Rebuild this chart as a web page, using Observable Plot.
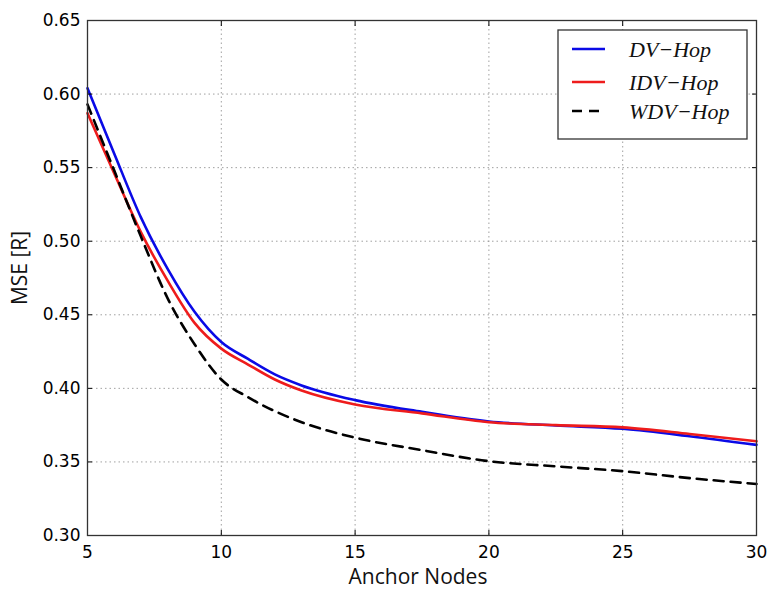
<!DOCTYPE html>
<html>
<head>
<meta charset="utf-8">
<script src="https://cdn.jsdelivr.net/npm/d3@7"></script>
<script src="https://cdn.jsdelivr.net/npm/@observablehq/plot@0.6"></script>
<style>
  html, body { margin: 0; padding: 0; background: #fff; }
  #chart { width: 767px; height: 592px; }
</style>
</head>
<body>
<div id="chart"></div>
<script>
const anchorNodes = [5, 6, 7, 8, 9, 10, 11, 12, 13, 15, 17.5, 20, 22.5, 25, 27.5, 30];
const dvHop  = [0.604, 0.5595, 0.516, 0.481, 0.452, 0.4315, 0.420, 0.4095, 0.402, 0.392, 0.384, 0.3775, 0.3748, 0.3725, 0.3675, 0.3616];
const idvHop = [0.587, 0.546, 0.506, 0.473, 0.4445, 0.427, 0.4162, 0.406, 0.3985, 0.389, 0.383, 0.377, 0.375, 0.3735, 0.369, 0.364];
const wdvHop = [0.593, 0.548, 0.503, 0.461, 0.430, 0.406, 0.394, 0.3845, 0.377, 0.3665, 0.358, 0.3505, 0.347, 0.3437, 0.339, 0.335];
const seriesNames = ["DV\u2212Hop", "IDV\u2212Hop", "WDV\u2212Hop"];
const seriesColors = ["#0a0ae6", "#ee1c1c", "#000000"];
const seriesDash = [null, null, "10,7"];
const xTicks = [5, 10, 15, 20, 25, 30];
const yTicks = [0.30, 0.35, 0.40, 0.45, 0.50, 0.55, 0.60, 0.65];

const allSeries = [dvHop, idvHop, wdvHop];
const rows = [];
allSeries.forEach((vals, si) => {
  vals.forEach((v, i) => rows.push({series: seriesNames[si], x: anchorNodes[i], y: v}));
});

const font = "DejaVu Sans, sans-serif";
const labelFont = "Open Sans, sans-serif";
const plot = Plot.plot({
  width: 767,
  height: 592,
  marginLeft: 87,
  marginRight: 11,
  marginTop: 20,
  marginBottom: 57,
  style: {fontFamily: font, fontSize: "17px", background: "#fff", color: "#000"},
  x: {domain: [5, 30], label: null},
  y: {domain: [0.30, 0.65], label: null},
  marks: [
    Plot.gridX(xTicks, {stroke: "#888", strokeOpacity: 0.8, strokeDasharray: "1.5,3", strokeWidth: 1}),
    Plot.gridY(yTicks, {stroke: "#888", strokeOpacity: 0.8, strokeDasharray: "1.5,3", strokeWidth: 1}),
    ...seriesNames.map((name, si) =>
      Plot.line(rows.filter(d => d.series === name), {
        x: "x", y: "y", curve: "monotone-x",
        stroke: seriesColors[si], strokeWidth: 2.6,
        strokeDasharray: seriesDash[si] ?? undefined
      })
    ),
    Plot.axisX(xTicks, {anchor: "bottom", tickSize: -5, tickPadding: 15, tickFormat: d => String(d), fontSize: 17, label: null}),
    Plot.axisY(yTicks, {anchor: "left", tickSize: -5, tickPadding: 12, tickFormat: d => d.toFixed(2), fontSize: 17, label: null}),
    Plot.axisX(xTicks, {anchor: "top", tickSize: -5, tickFormat: () => "", label: null}),
    Plot.axisY(yTicks, {anchor: "right", tickSize: -5, tickFormat: () => "", label: null}),
    Plot.frame({stroke: "#333", strokeWidth: 1.3})
  ]
});

const svg = d3.select(plot);
// axis titles
svg.append("text").attr("x", 418).attr("y", 584).attr("text-anchor", "middle")
  .attr("font-family", labelFont).attr("font-size", 21).attr("fill", "#111").text("Anchor Nodes");
svg.append("text").attr("transform", "translate(27,268) rotate(-90)").attr("text-anchor", "middle")
  .attr("font-family", labelFont).attr("font-size", 21).attr("fill", "#111").text("MSE [R]");

// legend
const lg = svg.append("g");
lg.append("rect").attr("x", 558).attr("y", 30).attr("width", 189).attr("height", 109)
  .attr("fill", "#fff").attr("stroke", "#333").attr("stroke-width", 1.3);
const rowY = [49, 82, 111];
seriesNames.forEach((name, i) => {
  lg.append("line").attr("x1", 572).attr("x2", 605).attr("y1", rowY[i]).attr("y2", rowY[i])
    .attr("stroke", seriesColors[i]).attr("stroke-width", 2.6)
    .attr("stroke-dasharray", seriesDash[i] ? "10,7" : null);
  lg.append("text").attr("x", 629).attr("y", rowY[i]).attr("dy", "0.35em")
    .attr("text-anchor", "start")
    .attr("font-family", "Liberation Serif, serif").attr("font-style", "italic")
    .attr("font-size", 22).attr("fill", "#111").text(name);
});

document.getElementById("chart").appendChild(plot);
</script>
</body>
</html>
